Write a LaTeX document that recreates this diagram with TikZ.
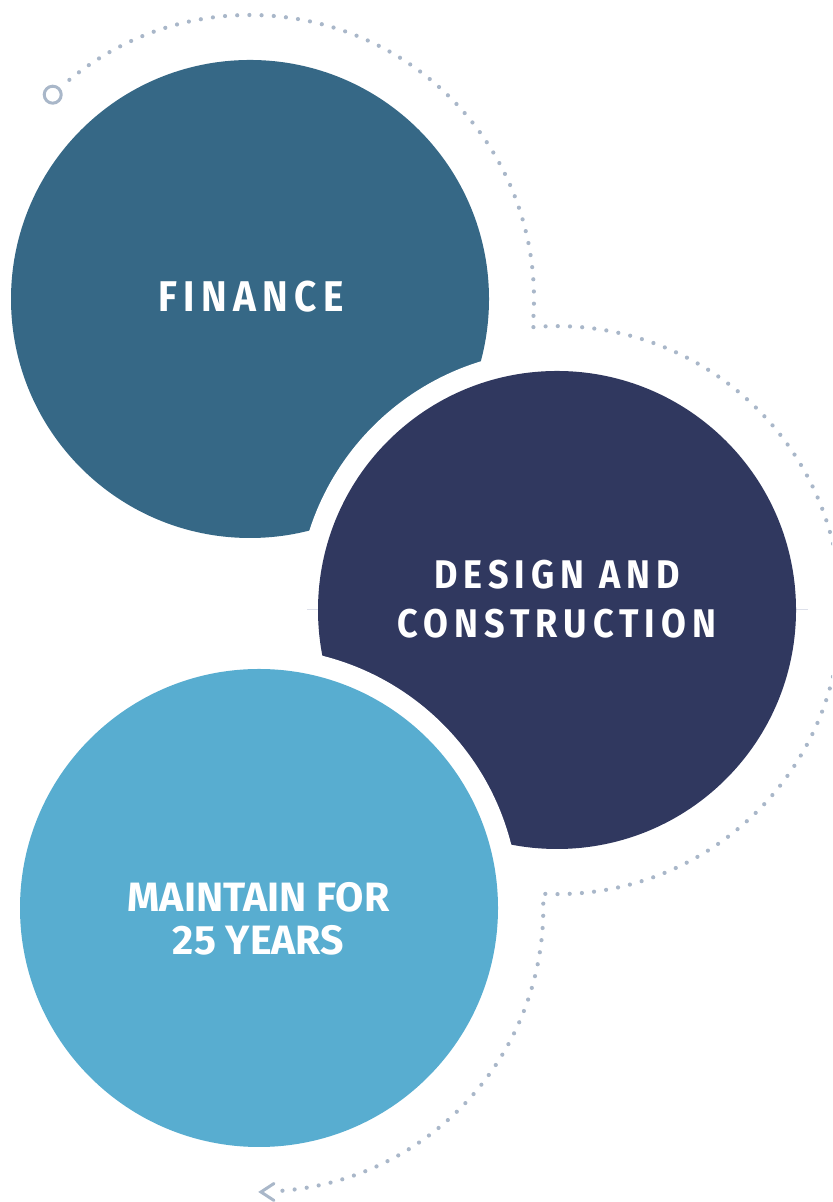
\documentclass[tikz,border=0pt]{standalone}
\usepackage{fontspec}
\newfontfamily\tagfont{Fira Sans}
\newfontfamily\widetagfont{Fira Sans}[FakeStretch=0.9,LetterSpace=15]
\usetikzlibrary{calc}

\definecolor{finblue}{HTML}{366886}
\definecolor{buildnavy}{HTML}{30385F}
\definecolor{keepsky}{HTML}{58ADD0}
\definecolor{dotgray}{HTML}{A9B7C9}
\definecolor{faintline}{HTML}{DDE0EA}

\tikzset{
  stage/.style={text=white, align=center, inner sep=0pt},
  track/.style={draw=dotgray, line width=2.1pt, line cap=round, dash pattern=on 0pt off 6.1pt},
  trackend/.style={draw=dotgray, line width=1.5pt},
}

\begin{document}
\begin{tikzpicture}[x=0.5pt,y=0.5pt]
  \useasboundingbox (0,0) rectangle (832,1202);
  \clip (0,0) rectangle (832,1202);

  \coordinate (c1) at (250,903); % finance
  \coordinate (c2) at (557,592); % design
  \coordinate (c3) at (259,294); % maintain

  % dotted track round the three discs
  \draw[track] ($(c1)+(129.5:284)$)
      arc[start angle=129.5, end angle=-5.7, radius=284]
      arc[start angle=94.9, end angle=-92.8, radius=284]
      arc[start angle=2.8, end angle=-87, radius=284];
  \coordinate (start) at ($(c1)+(134:284)$);
  \coordinate (tip) at ($(c3)+(-89.6:284)$);
  \draw[trackend] (start) circle[radius=8.5];
  \draw[trackend, line cap=round, line join=miter] ($(tip)+(13,8.5)$) -- (tip) -- ($(tip)+(13,-8.5)$);

  % discs, each later one cut out of the one before by a white gap
  \fill[finblue] (c1) circle[radius=239];
  \fill[white] (c2) circle[radius=260];
  \draw[faintline, line width=0.5pt] (307,592) -- (808,592);
  \fill[buildnavy] (c2) circle[radius=239];
  \fill[white] (c3) circle[radius=260];
  \fill[keepsky] (c3) circle[radius=239];

  \node[stage, font=\widetagfont\bfseries\fontsize{21.5}{24.5}\selectfont] (finance) at (251,905) {FINANCE};
  \node[stage, font=\widetagfont\bfseries\fontsize{20}{24.5}\selectfont] (design) at (557,602.5) {DESIGN AND\\CONSTRUCTION};
  \node[stage, font=\tagfont\bfseries\fontsize{20.5}{21.5}\selectfont] (maintain) at (258.5,283.5) {MAINTAIN FOR\\25 YEARS};
\end{tikzpicture}
\end{document}
